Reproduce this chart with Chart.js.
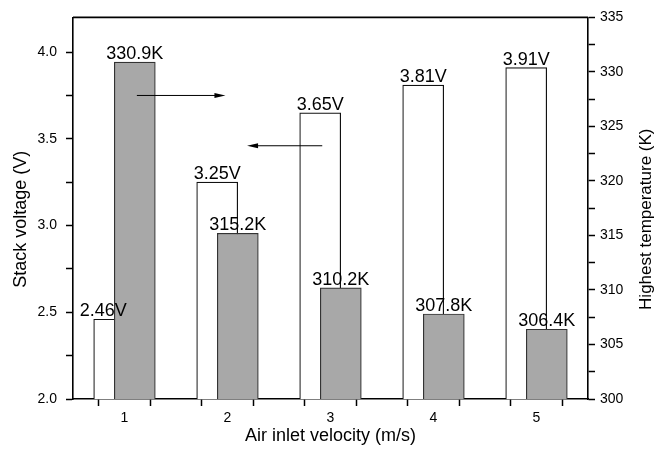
<!DOCTYPE html>
<html>
<head>
<meta charset="utf-8">
<script src="https://cdn.jsdelivr.net/npm/chart.js@4/dist/chart.umd.min.js"></script>
<style>
  html, body { margin: 0; padding: 0; background: #fff; }
  #wrap { width: 672px; height: 449px; }
</style>
</head>
<body>
<div id="wrap"><canvas id="chart"></canvas></div>
<script>
  // data
  const velocities = [1, 2, 3, 4, 5];
  const stackVoltage = [2.46, 3.25, 3.65, 3.81, 3.91];
  const highestTemp = [330.9, 315.2, 310.2, 307.8, 306.4];
  const voltageTicks = [2.0, 2.5, 3.0, 3.5, 4.0];
  const tempTicks = [300, 305, 310, 315, 320, 325, 330, 335];

  const FONT = "'Liberation Sans', Arial, sans-serif";
  const INK = '#000';

  // majors plus a minor tick half way between each pair
  function withMinors(majors) {
    const out = [];
    majors.forEach((v, i) => {
      out.push({ value: v });
      if (i < majors.length - 1) out.push({ value: (v + majors[i + 1]) / 2 });
    });
    return out;
  }
  const isMajor = (v, majors) => majors.some(m => Math.abs(m - v) < 1e-6);

  const axisStyle = {
    grid: { drawOnChartArea: false, drawTicks: true, tickLength: 7, tickColor: '#000', tickWidth: 1.5 },
    border: { color: '#000', width: 1.6 },
  };

  // arrows pointing each bar series to its axis (data units)
  const arrows = [
    { from: [1.12, 3.75], to: [1.98, 3.75] },
    { from: [2.92, 3.46], to: [2.19, 3.46] },
  ];

  const extras = {
    id: 'extras',
    afterDatasetsDraw(chart) {
      const { ctx, chartArea, scales } = chart;
      ctx.save();

      // top frame line
      ctx.strokeStyle = '#000';
      ctx.lineWidth = 1.6;
      ctx.beginPath();
      ctx.moveTo(chartArea.left, chartArea.top);
      ctx.lineTo(chartArea.right, chartArea.top);
      ctx.stroke();

      // value labels
      ctx.fillStyle = INK;
      ctx.font = '18px ' + FONT;
      ctx.textAlign = 'center';
      ctx.textBaseline = 'alphabetic';
      chart.data.datasets.forEach((ds, di) => {
        const meta = chart.getDatasetMeta(di);
        meta.data.forEach((bar, i) => {
          const txt = ds.yAxisID === 'y' ? stackVoltage[i].toFixed(2) + 'V' : highestTemp[i].toFixed(1) + 'K';
          const dx = (ds.yAxisID === 'y' && i === 0) ? -11 : 0;
          ctx.fillText(txt, bar.x + dx, bar.y - 3);
        });
      });

      // arrows
      ctx.lineWidth = 1;
      ctx.strokeStyle = '#000';
      ctx.fillStyle = '#000';
      arrows.forEach(a => {
        const x1 = scales.x.getPixelForValue(a.from[0]);
        const x2 = scales.x.getPixelForValue(a.to[0]);
        const y = scales.y.getPixelForValue(a.from[1]);
        const dir = Math.sign(x2 - x1);
        ctx.beginPath();
        ctx.moveTo(x1, y);
        ctx.lineTo(x2 - dir * 8, y);
        ctx.stroke();
        ctx.beginPath();
        ctx.moveTo(x2, y);
        ctx.lineTo(x2 - dir * 11, y - 2.5);
        ctx.lineTo(x2 - dir * 11, y + 2.5);
        ctx.closePath();
        ctx.fill();
      });

      // vertical axis titles, both reading bottom to top
      ctx.fillStyle = INK;
      ctx.textBaseline = 'middle';
      const midY = (chartArea.top + chartArea.bottom) / 2 + 11;
      [[21.5, 'Stack voltage (V)', 18], [646, 'Highest temperature (K)', 17]].forEach(([x, t, size]) => {
        ctx.save();
        ctx.font = size + 'px ' + FONT;
        ctx.translate(x, midY);
        ctx.rotate(-Math.PI / 2);
        ctx.fillText(t, 0, 0);
        ctx.restore();
      });
      ctx.restore();
    }
  };

  const chart = new Chart(document.getElementById('chart'), {
    type: 'bar',
    data: {
      datasets: [
        {
          label: 'Highest temperature (K)',
          yAxisID: 'y2',
          data: velocities.map((v, i) => ({ x: v + 0.1, y: highestTemp[i] })),
          backgroundColor: '#a8a8a8',
          borderColor: '#333',
          borderWidth: 1.2,
        },
        {
          label: 'Stack voltage (V)',
          yAxisID: 'y',
          data: velocities.map((v, i) => ({ x: v - 0.1, y: stackVoltage[i] })),
          backgroundColor: '#fff',
          borderColor: '#111',
          borderWidth: 1.2,
        }
      ]
    },
    options: {
      responsive: true,
      maintainAspectRatio: false,
      animation: false,
      layout: { padding: { top: 16, left: 0, right: 0, bottom: 0 } },
      datasets: { bar: { grouped: false, barThickness: 41 } },
      plugins: { legend: { display: false }, tooltip: { enabled: false } },
      scales: {
        x: {
          type: 'linear',
          offset: false,
          min: 0.5,
          max: 5.5,
          ...axisStyle,
          afterBuildTicks: s => { s.ticks = withMinors(velocities); },
          afterFit: s => { s.height = 50; },
          ticks: {
            font: { family: FONT, size: 14 },
            color: INK,
            padding: 4,
            callback: v => (isMajor(v, velocities) ? String(v) : '')
          },
          title: {
            display: true,
            text: 'Air inlet velocity (m/s)',
            color: INK,
            font: { family: FONT, size: 18 },
            padding: { top: 0, bottom: 2 }
          }
        },
        y: {
          type: 'linear',
          position: 'left',
          min: 2.0,
          max: 4.2,
          ...axisStyle,
          afterBuildTicks: s => { s.ticks = withMinors(voltageTicks); },
          afterFit: s => { s.width = 73; },
          ticks: {
            font: { family: FONT, size: 14 },
            color: INK,
            padding: 9,
            callback: v => (isMajor(v, voltageTicks) ? v.toFixed(1) : '')
          }
        },
        y2: {
          type: 'linear',
          position: 'right',
          min: 300,
          max: 335,
          ...axisStyle,
          afterBuildTicks: s => { s.ticks = withMinors(tempTicks); },
          afterFit: s => { s.width = 84; },
          ticks: {
            font: { family: FONT, size: 14 },
            color: INK,
            padding: 5,
            callback: v => (isMajor(v, tempTicks) ? String(v) : '')
          }
        }
      }
    },
    plugins: [extras]
  });
</script>
</body>
</html>
